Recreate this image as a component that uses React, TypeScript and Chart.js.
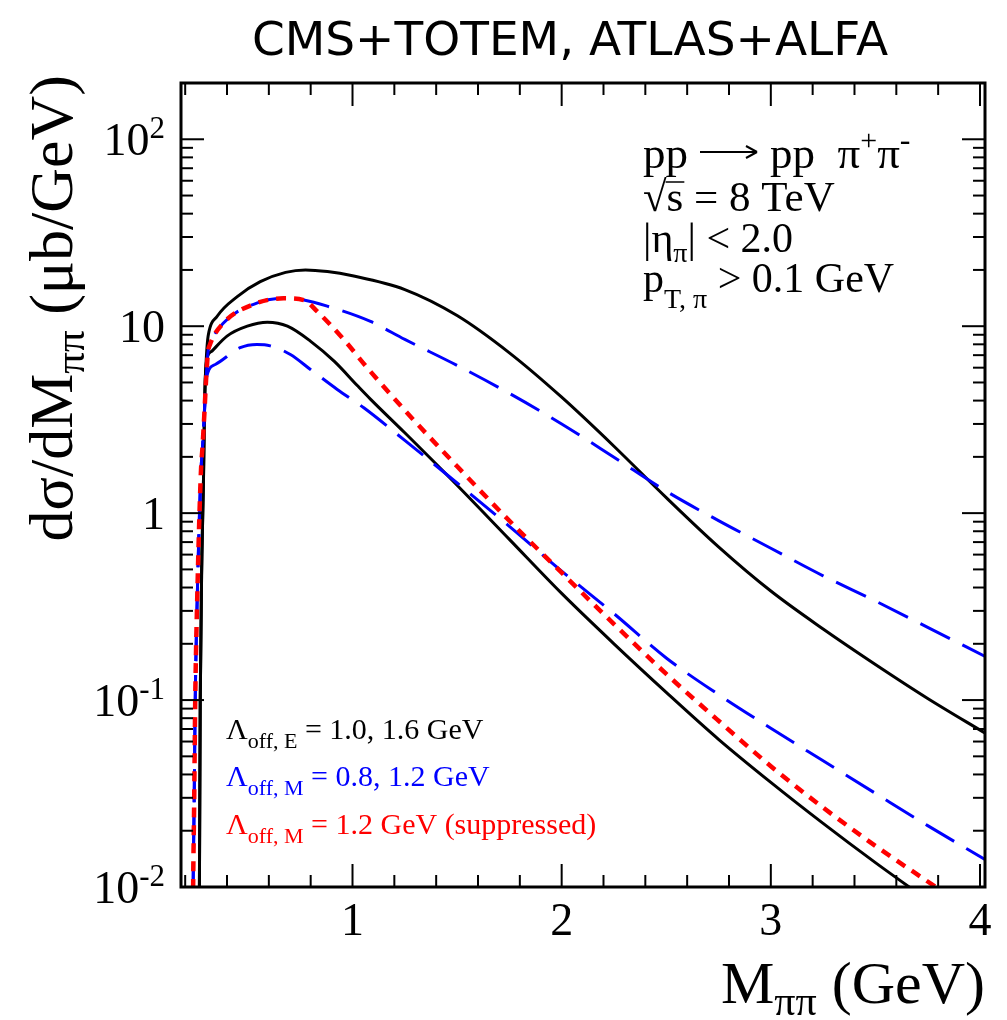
import React, { useEffect, useRef } from "react";
import { Chart, registerables } from "chart.js";
Chart.register(...registerables);

const SERIF = "'Liberation Serif', 'Times New Roman', serif";
const SANS = "'DejaVu Sans', sans-serif";

// Λ_off,E = 1.6 GeV (upper black)
const massE16 = [0.266, 0.268, 0.272, 0.280, 0.2875, 0.292, 0.296, 0.300, 0.305, 0.311, 0.353, 0.449, 0.559, 0.68, 0.775, 0.88, 1.0, 1.25, 1.5, 1.75, 2.0, 2.25, 2.5, 2.75, 3.0, 3.25, 3.5, 3.75, 4.03];
const xsecE16 = [0.005, 0.01, 0.1, 0.6, 1.51, 3.44, 5.19, 6.43, 7.9, 9.03, 11.3, 14.4, 17.3, 19.4, 20.0, 19.6, 18.6, 15.7, 11.4, 7.2, 4.17, 2.28, 1.21, 0.66, 0.383, 0.24, 0.155, 0.102, 0.066];

// Λ_off,E = 1.0 GeV (lower black)
const massE10 = [0.266, 0.268, 0.272, 0.280, 0.2875, 0.292, 0.296, 0.300, 0.307, 0.328, 0.400, 0.497, 0.593, 0.689, 0.8, 0.912, 1.024, 1.088, 1.25, 1.5, 1.75, 2.0, 2.25, 2.5, 2.75, 3.0, 3.25, 3.5, 3.75];
const xsecE10 = [0.005, 0.01, 0.1, 0.6, 1.51, 3.44, 5.19, 6.2, 6.91, 7.36, 8.85, 10.0, 10.5, 10.0, 8.3, 6.5, 4.8, 4.05, 2.69, 1.41, 0.724, 0.372, 0.2, 0.11, 0.0617, 0.0363, 0.0219, 0.0135, 0.0085];

// Λ_off,M = 0.8 GeV (lower blue)
const massM08 = [0.236, 0.238, 0.243, 0.248, 0.2575, 0.275, 0.283, 0.292, 0.300, 0.344, 0.463, 0.543, 0.607, 0.703, 0.799, 0.927, 1.054, 1.25, 1.5, 1.75, 2.0, 2.25, 2.5, 2.75, 3.0, 3.25, 3.5, 3.75, 4.03];
const xsecM08 = [0.005, 0.01, 0.029, 0.1, 0.346, 1.64, 2.28, 3.44, 5.19, 6.24, 7.67, 7.98, 7.85, 7.06, 5.87, 4.59, 3.66, 2.45, 1.45, 0.85, 0.49, 0.29, 0.168, 0.107, 0.0707, 0.0473, 0.0317, 0.0213, 0.0139];

// Λ_off,M = 1.2 GeV (upper blue)
const massM12 = [0.236, 0.238, 0.243, 0.248, 0.2575, 0.275, 0.283, 0.292, 0.300, 0.309, 0.319, 0.383, 0.527, 0.671, 0.767, 0.879, 1.086, 1.25, 1.5, 1.75, 2.0, 2.25, 2.5, 2.75, 3.0, 3.25, 3.5, 3.75, 4.03];
const xsecM12 = [0.005, 0.01, 0.029, 0.1, 0.346, 1.64, 2.28, 3.44, 5.19, 7.24, 8.0, 10.4, 13.1, 14.1, 13.8, 12.8, 10.6, 8.5, 6.17, 4.37, 3.0, 1.99, 1.31, 0.912, 0.649, 0.462, 0.339, 0.245, 0.17];

// Λ_off,M = 1.2 GeV suppressed (red)
const massM12s = [0.236, 0.238, 0.243, 0.248, 0.2575, 0.275, 0.283, 0.292, 0.300, 0.309, 0.319, 0.383, 0.527, 0.671, 0.767, 0.831, 0.958, 1.07, 1.25, 1.5, 1.75, 2.0, 2.25, 2.5, 2.75, 3.0, 3.25, 3.5, 3.75, 3.85];
const xsecM12s = [0.005, 0.01, 0.029, 0.1, 0.346, 1.64, 2.28, 3.44, 5.19, 7.24, 8.0, 10.4, 13.1, 14.1, 13.8, 12.0, 8.49, 6.0, 3.55, 1.78, 0.91, 0.48, 0.255, 0.138, 0.0775, 0.0443, 0.0266, 0.0166, 0.0107, 0.0090];

const xMajorTicks = [1, 2, 3, 4];
const xTickLabels = ["1", "2", "3", "4"];
const yDecades = [-2, -1, 0, 1, 2];

type Seg = { t: string; s: number; dy?: number; f?: string };

function drawSegs(ctx: CanvasRenderingContext2D, segs: Seg[], x: number, y: number, align: "left" | "right" | "center", color: string): number[] {
  let w = 0;
  const widths: number[] = [];
  for (const s of segs) {
    ctx.font = `${s.s}px ${s.f || SERIF}`;
    const m = s.t === "" ? 0 : ctx.measureText(s.t).width;
    widths.push(m);
    w += m;
  }
  let cx = align === "left" ? x : align === "right" ? x - w : x - w / 2;
  const starts: number[] = [];
  ctx.fillStyle = color;
  ctx.textAlign = "left";
  ctx.textBaseline = "alphabetic";
  segs.forEach((s, i) => {
    ctx.font = `${s.s}px ${s.f || SERIF}`;
    starts.push(cx);
    ctx.fillText(s.t, cx, y + (s.dy || 0));
    cx += widths[i];
  });
  starts.push(cx);
  return starts;
}

const rootFrame = {
  id: "rootFrame",
  afterDraw(chart: any) {
    const { ctx, chartArea: a, scales } = chart;
    const xs = scales.x;
    const ys = scales.y;
    ctx.save();
    ctx.strokeStyle = "#000";
    ctx.lineWidth = 2;
    const line = (x1: number, y1: number, x2: number, y2: number) => {
      ctx.beginPath();
      ctx.moveTo(x1, y1);
      ctx.lineTo(x2, y2);
      ctx.stroke();
    };
    // x ticks
    for (let i = 1; i <= 20; i++) {
      const v = i * 0.2;
      const major = i % 5 === 0;
      const len = major ? 23 : 12;
      const px = xs.getPixelForValue(v);
      line(px, a.bottom, px, a.bottom - len);
      line(px, a.top, px, a.top + len);
    }
    // y ticks
    for (const e of yDecades) {
      for (let m = 1; m <= 9; m++) {
        const v = m * Math.pow(10, e);
        if (v > 200) break;
        const len = m === 1 ? 23 : 12;
        const py = ys.getPixelForValue(v);
        line(a.left, py, a.left + len, py);
        line(a.right, py, a.right - len, py);
      }
    }
    // frame
    ctx.lineWidth = 3;
    ctx.strokeRect(a.left, a.top, a.right - a.left, a.bottom - a.top);

    // x tick labels
    xMajorTicks.forEach((v, i) => {
      const px = xs.getPixelForValue(v);
      drawSegs(ctx, [{ t: xTickLabels[i], s: 46 }], px, 935, "center", "#000");
    });
    // y tick labels
    for (const e of yDecades) {
      const py = ys.getPixelForValue(Math.pow(10, e));
      let segs: Seg[];
      if (e === 0) segs = [{ t: "1", s: 46 }];
      else if (e === 1) segs = [{ t: "10", s: 46 }];
      else segs = [{ t: "10", s: 46 }, { t: String(e), s: 31, dy: -17 }];
      drawSegs(ctx, segs, 165, py + 16, "right", "#000");
    }

    // axis titles
    drawSegs(ctx, [{ t: "M", s: 60 }, { t: "ππ", s: 42, dy: 12 }, { t: " (GeV)", s: 60 }], 985, 1003, "right", "#000");
    ctx.save();
    ctx.translate(72, 75);
    ctx.rotate(-Math.PI / 2);
    drawSegs(ctx, [{ t: "dσ/dM", s: 62 }, { t: "ππ", s: 43, dy: 12 }, { t: " (μb/GeV)", s: 62 }], 0, 0, "right", "#000");
    ctx.restore();

    // title
    ctx.font = `47px ${SANS}`;
    ctx.fillStyle = "#000";
    ctx.textAlign = "center";
    ctx.textBaseline = "alphabetic";
    ctx.fillText("CMS+TOTEM, ATLAS+ALFA", 570, 55);

    // process annotations
    const p1 = drawSegs(ctx, [{ t: "pp", s: 45 }, { t: "", s: 45 }], 643, 168, "left", "#000");
    const ax0 = p1[1] + 12;
    const ax1 = ax0 + 56;
    ctx.lineWidth = 2;
    line(ax0, 152, ax1, 152);
    ctx.beginPath();
    ctx.moveTo(ax1 + 1, 152);
    ctx.lineTo(ax1 - 10, 146);
    ctx.moveTo(ax1 + 1, 152);
    ctx.lineTo(ax1 - 10, 158);
    ctx.stroke();
    drawSegs(ctx, [{ t: "pp  ", s: 45 }, { t: "π", s: 45 }, { t: "+", s: 30, dy: -18 }, { t: "π", s: 45 }, { t: "-", s: 32, dy: -18 }], ax1 + 14, 168, "left", "#000");
    const st = drawSegs(ctx, [{ t: "√", s: 43 }, { t: "s", s: 43 }, { t: " = 8 TeV", s: 43 }], 643, 211, "left", "#000");
    ctx.lineWidth = 1.5;
    line(st[1] - 1, 182, st[2] + 1, 182);
    drawSegs(ctx, [{ t: "|η", s: 42 }, { t: "π", s: 28, dy: 10 }, { t: "| < 2.0", s: 42 }], 643, 252, "left", "#000");
    drawSegs(ctx, [{ t: "p", s: 42 }, { t: "T, π", s: 28, dy: 16 }, { t: " > 0.1 GeV", s: 42 }], 643, 292, "left", "#000");

    // legend texts
    drawSegs(ctx, [{ t: "Λ", s: 30 }, { t: "off, E", s: 22, dy: 9 }, { t: " = 1.0, 1.6 GeV", s: 30 }], 226, 739, "left", "#000000");
    drawSegs(ctx, [{ t: "Λ", s: 30 }, { t: "off, M", s: 22, dy: 9 }, { t: " = 0.8, 1.2 GeV", s: 30 }], 226, 786, "left", "#0000ff");
    drawSegs(ctx, [{ t: "Λ", s: 30 }, { t: "off, M", s: 22, dy: 9 }, { t: " = 1.2 GeV (suppressed)", s: 30 }], 226, 834, "left", "#ff0000");
    ctx.restore();
  },
};

function pts(xs: number[], ys: number[]) {
  return xs.map((x, i) => ({ x, y: ys[i] }));
}

export default function App() {
  const ref = useRef<HTMLCanvasElement | null>(null);
  useEffect(() => {
    if (!ref.current) return;
    const common = { pointRadius: 0, fill: false, cubicInterpolationMode: "monotone" as const };
    const chart = new Chart(ref.current, {
      type: "line",
      data: {
        datasets: [
          { ...common, data: pts(massM12s, xsecM12s), borderColor: "#ff0000", borderWidth: 4.5, borderDash: [10, 8], order: 0 },
          { ...common, data: pts(massM08, xsecM08), borderColor: "#0000ff", borderWidth: 3, borderDash: [33, 14], order: 1 },
          { ...common, data: pts(massM12, xsecM12), borderColor: "#0000ff", borderWidth: 3, borderDash: [33, 14], order: 1 },
          { ...common, data: pts(massE10, xsecE10), borderColor: "#000000", borderWidth: 3, order: 2 },
          { ...common, data: pts(massE16, xsecE16), borderColor: "#000000", borderWidth: 3, order: 2 },
        ],
      },
      options: {
        responsive: false,
        animation: false,
        layout: { padding: { left: 181, right: 22, top: 83, bottom: 133 } },
        plugins: { legend: { display: false }, tooltip: { enabled: false }, title: { display: false } },
        scales: {
          x: { type: "linear", min: 0.18, max: 4.024, display: false },
          y: { type: "logarithmic", min: 0.01, max: 200, display: false },
        },
      },
      plugins: [rootFrame],
    });
    return () => chart.destroy();
  }, []);
  return (
    <div style={{ position: "absolute", left: 0, top: 0, width: 1007, height: 1020, background: "#fff" }}>
      <canvas ref={ref} width={1007} height={1020} style={{ display: "block" }} />
    </div>
  );
}
